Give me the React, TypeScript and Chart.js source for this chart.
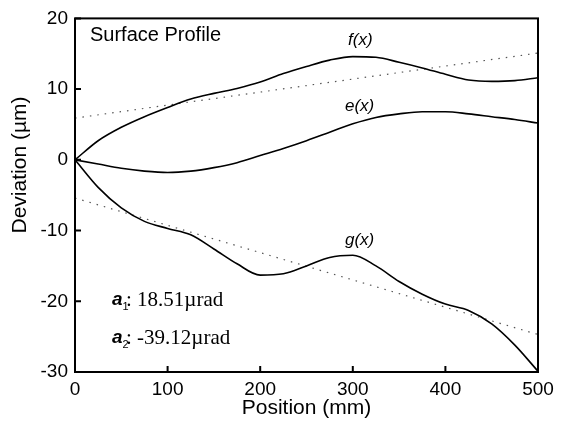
import React, { useEffect, useRef } from "react";
import { Chart, registerables } from "chart.js";

Chart.register(...registerables);

const positions = [0, 25, 50, 75, 100, 125, 150, 175, 200, 225, 250, 275, 300, 325, 350, 375, 400, 425, 450, 475, 500];
const fValues = [0, 2.7, 4.6, 6.1, 7.4, 8.6, 9.4, 10.1, 11.0, 12.2, 13.2, 14.1, 14.6, 14.5, 13.8, 13.0, 12.1, 11.3, 11.1, 11.2, 11.6];
const eValues = [0, -0.6, -1.2, -1.6, -1.8, -1.6, -1.1, -0.4, 0.6, 1.6, 2.7, 3.9, 5.1, 6.0, 6.5, 6.8, 6.8, 6.5, 6.1, 5.7, 5.2];
const gValues = [0, -3.9, -6.8, -8.7, -9.7, -10.6, -12.6, -14.7, -16.3, -16.1, -15.0, -13.8, -13.5, -15.0, -17.2, -19.0, -20.4, -21.3, -23.2, -26.2, -29.9];
const fitX = [0, 500];
const fitUpper = [5.9, 15.1];
const fitLower = [-5.4, -24.7];
const xTicks = [0, 100, 200, 300, 400, 500];
const yTicks = [-30, -20, -10, 0, 10, 20];

const SANS = "'Liberation Sans', Arial, sans-serif";
const SERIF = "'Liberation Serif', 'Times New Roman', serif";

const toPts = (xs: number[], ys: number[]) => xs.map((x, i) => ({ x, y: ys[i] }));

const overlay = {
  id: "overlay",
  afterDraw(chart: any) {
    const { ctx, chartArea: a, scales } = chart;
    const xs = scales.x;
    const ys = scales.y;
    ctx.save();
    ctx.strokeStyle = "#000";
    ctx.lineWidth = 2;
    ctx.strokeRect(a.left, a.top, a.right - a.left, a.bottom - a.top);
    ctx.beginPath();
    xTicks.forEach((v) => {
      const px = xs.getPixelForValue(v);
      ctx.moveTo(px, a.bottom);
      ctx.lineTo(px, a.bottom - 6);
    });
    yTicks.forEach((v) => {
      const py = ys.getPixelForValue(v);
      ctx.moveTo(a.left, py);
      ctx.lineTo(a.left + 6, py);
    });
    ctx.stroke();

    ctx.fillStyle = "#000";
    ctx.textBaseline = "middle";
    ctx.textAlign = "left";
    ctx.font = `20px ${SANS}`;
    ctx.fillText("Surface Profile", 90, 35);

    ctx.font = `italic 17px ${SANS}`;
    ctx.fillText("f(x)", 348, 40);
    ctx.fillText("e(x)", 345, 106);
    ctx.fillText("g(x)", 345, 240);

    const drawA = (sub: string, rest: string, y: number) => {
      ctx.font = `italic bold 19px 'Liberation Sans'`;
      ctx.fillText("a", 112, y);
      const w = ctx.measureText("a").width;
      ctx.font = `11px 'Liberation Sans'`;
      ctx.fillText(sub, 112 + w, y + 7);
      ctx.font = `21px ${SERIF}`;
      ctx.fillText(rest, 126, y);
    };
    drawA("1", ": 18.51\u00b5rad", 300);
    drawA("2", ": -39.12\u00b5rad", 338);

    ctx.save();
    ctx.translate(20, 165);
    ctx.rotate(-Math.PI / 2);
    ctx.textAlign = "center";
    ctx.font = `21px ${SANS}`;
    ctx.fillText("Deviation (\u00b5m)", 0, 0);
    ctx.restore();
    ctx.restore();
  },
};

export default function App() {
  const ref = useRef<HTMLCanvasElement | null>(null);
  useEffect(() => {
    if (!ref.current) return;
    const lineStyle = { showLine: true, pointRadius: 0, borderColor: "#000", borderWidth: 1.6, cubicInterpolationMode: "monotone" as const, fill: false };
    const dotStyle = { showLine: true, pointRadius: 0, borderColor: "#555", borderWidth: 1.2, borderDash: [1.5, 6], fill: false };
    const chart = new Chart(ref.current, {
      type: "scatter",
      data: {
        datasets: [
          { label: "f(x)", data: toPts(positions, fValues), ...lineStyle },
          { label: "e(x)", data: toPts(positions, eValues), ...lineStyle },
          { label: "g(x)", data: toPts(positions, gValues), ...lineStyle },
          { label: "fit a1", data: toPts(fitX, fitUpper), ...dotStyle },
          { label: "fit a2", data: toPts(fitX, fitLower), ...dotStyle },
        ],
      },
      options: {
        responsive: false,
        animation: false,
        layout: { padding: { top: 14, right: 23, left: 0, bottom: 0 } },
        plugins: { legend: { display: false }, tooltip: { enabled: false } },
        scales: {
          x: {
            type: "linear",
            min: 0,
            max: 500,
            afterBuildTicks: (s: any) => { s.ticks = xTicks.map((v) => ({ value: v })); },
            afterFit: (s: any) => { s.height = 56; },
            grid: { display: false, drawTicks: false },
            border: { display: false },
            ticks: { color: "#000", font: { family: SANS, size: 19 }, padding: 6, maxRotation: 0 },
            title: { display: true, text: "Position (mm)", color: "#000", font: { family: SANS, size: 21 }, padding: { top: 0, bottom: 7 } },
          },
          y: {
            type: "linear",
            min: -30,
            max: 20,
            afterBuildTicks: (s: any) => { s.ticks = yTicks.map((v) => ({ value: v })); },
            afterFit: (s: any) => { s.width = 75; },
            grid: { display: false, drawTicks: false },
            border: { display: false },
            ticks: { color: "#000", font: { family: SANS, size: 19 }, padding: 7 },
          },
        },
      },
      plugins: [overlay],
    });
    return () => chart.destroy();
  }, []);
  return (
    <div style={{ position: "absolute", left: 0, top: 0, width: 561, height: 428, background: "#fff" }}>
      <canvas ref={ref} width={561} height={428} style={{ display: "block" }} />
    </div>
  );
}
